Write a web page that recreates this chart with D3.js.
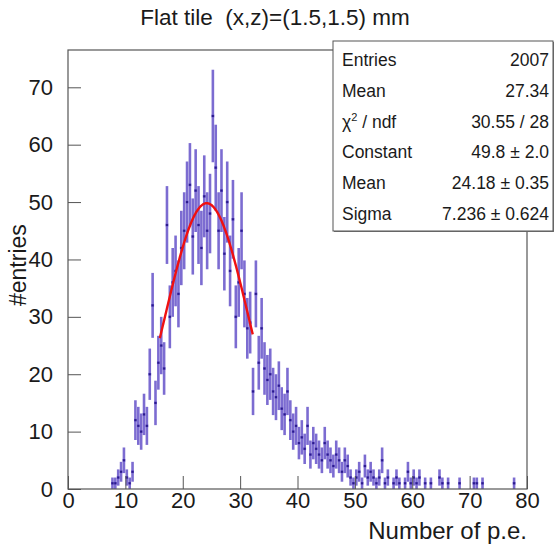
<!DOCTYPE html>
<html>
<head>
<meta charset="utf-8">
<script src="https://cdn.jsdelivr.net/npm/d3@7"></script>
<style>
	body { margin: 0; background: #fff; }
	svg { font-family: "Liberation Sans", Arial, sans-serif; }
</style>
</head>
<body>
<svg width="556" height="547"></svg>
<script>
// histogram: 160 bins of 0.5 p.e. from 0 to 80
const binWidth = 0.5;
const binCounts = [
	0, 0, 0, 0, 0, 0, 0, 0, 0, 0, 0, 0, 0, 0, 0, 1, 1, 2, 3, 5,
	2, 1, 3, 12, 11, 10, 13, 11, 20, 32, 15, 22, 25, 21, 46, 30, 36, 38, 34, 42,
	45, 50, 53, 44, 52, 46, 42, 51, 45, 48, 65, 56, 45, 52, 41, 50, 38, 47, 30, 36,
	45, 34, 28, 29, 17, 34, 22, 28, 21, 19, 20, 17, 16, 18, 14, 13, 17, 12, 10, 11,
	8, 9, 7, 11, 6, 8, 7, 6, 5, 8, 6, 5, 4, 6, 5, 3, 5, 4, 2, 1,
	2, 3, 1, 4, 2, 3, 2, 1, 2, 5, 1, 2, 0, 1, 2, 1, 0, 1, 3, 1,
	2, 1, 2, 0, 1, 0, 1, 0, 0, 2, 1, 0, 1, 0, 0, 0, 1, 0, 0, 0,
	0, 1, 1, 0, 1, 0, 0, 0, 0, 0, 0, 0, 0, 0, 0, 1, 0, 0, 0, 0
];

const xTicks = [0, 10, 20, 30, 40, 50, 60, 70, 80];
const yTicks = [0, 10, 20, 30, 40, 50, 60, 70];

// gaussian fit
const fitConstant = 49.8;
const fitMean = 24.18;
const fitSigma = 7.236;
const fitRange = [16.0, 32.2];

const statLabels = ["Entries", "Mean", "χ2 / ndf", "Constant", "Mean", "Sigma"];
const statValues = ["2007", "27.34", "30.55 / 28", "49.8 ± 2.0", "24.18 ± 0.35", "7.236 ± 0.624"];

const titel = "Flat tile\u00a0\u00a0(x,z)=(1.5,1.5) mm";
const xTitel = "Number of p.e.";
const yTitel = "#entries";

const svg = d3.select("svg");
const frame = {left: 68, right: 527, top: 50, bottom: 489};

const x = d3.scaleLinear().domain([0, 80]).range([frame.left, frame.right]);
const y = d3.scaleLinear().domain([0, 76.5]).range([frame.bottom, frame.top]);

const kleurHist = '#5b47c6';
const kleurAs = '#555';
const kleurTekst = '#1a1a1a';

svg.append("defs").append("clipPath")
	.attr("id", "clip")
	.append("rect")
	.attr("x", frame.left)
	.attr("y", frame.top)
	.attr("width", frame.right - frame.left)
	.attr("height", frame.bottom - frame.top);

// title
svg.append("text")
	.attr("x", 275)
	.attr("y", 25)
	.attr("text-anchor", "middle")
	.attr("font-size", 22.5)
	.attr("fill", kleurTekst)
	.text(titel);

// histogram with error bars
const bins = binCounts
	.map((n, i) => ({lo: i * binWidth, hi: (i + 1) * binWidth, n: n}))
	.filter(b => b.n > 0);

const plot = svg.append("g").attr("clip-path", "url(#clip)");

plot.selectAll("line.err")
	.data(bins)
	.join("line")
	.attr("class", "err")
	.attr("x1", d => x((d.lo + d.hi) / 2))
	.attr("x2", d => x((d.lo + d.hi) / 2))
	.attr("y1", d => y(Math.max(0, d.n - Math.sqrt(d.n))))
	.attr("y2", d => y(d.n + Math.sqrt(d.n)))
	.attr("stroke", kleurHist)
	.attr("stroke-opacity", 0.8)
	.attr("stroke-width", 2.6);

plot.selectAll("line.bin")
	.data(bins)
	.join("line")
	.attr("class", "bin")
	.attr("x1", d => x(d.lo))
	.attr("x2", d => x(d.hi))
	.attr("y1", d => y(d.n))
	.attr("y2", d => y(d.n))
	.attr("stroke", kleurHist)
	.attr("stroke-opacity", 0.8)
	.attr("stroke-width", 2.6);

plot.selectAll("rect.marker")
	.data(bins)
	.join("rect")
	.attr("class", "marker")
	.attr("x", d => x((d.lo + d.hi) / 2) - 1)
	.attr("y", d => y(d.n) - 1)
	.attr("width", 2)
	.attr("height", 2)
	.attr("fill", "#2a1a8a");

// fit curve
const fitPunten = d3.range(fitRange[0], fitRange[1] + 0.001, 0.1);
const gauss = u => fitConstant * Math.exp(-0.5 * Math.pow((u - fitMean) / fitSigma, 2));

plot.append("path")
	.datum(fitPunten)
	.attr("d", d3.line().x(u => x(u)).y(u => y(gauss(u))))
	.attr("fill", "none")
	.attr("stroke", "#f01010")
	.attr("stroke-width", 2.4);

// frame
svg.append("rect")
	.attr("x", frame.left)
	.attr("y", frame.top)
	.attr("width", frame.right - frame.left)
	.attr("height", frame.bottom - frame.top)
	.attr("fill", "none")
	.attr("stroke", kleurAs)
	.attr("stroke-width", 1.2);

// axes
const xAxis = d3.axisBottom(x).tickValues(xTicks).tickSize(-13).tickPadding(17);
const xMinor = d3.axisBottom(x).tickValues(d3.range(0, 81, 1)).tickSize(-6).tickFormat("");
const yAxis = d3.axisLeft(y).tickValues(yTicks).tickSize(-13).tickPadding(15);
const yMinor = d3.axisLeft(y).tickValues(d3.range(0, 77, 1)).tickSize(-7).tickFormat("");

const gX = svg.append("g").attr("transform", `translate(0,${frame.bottom})`);
gX.call(xMinor);
gX.call(xAxis);

const gY = svg.append("g").attr("transform", `translate(${frame.left},0)`);
gY.call(yMinor);
gY.call(yAxis);

svg.selectAll(".domain").remove();
svg.selectAll(".tick line").attr("stroke", kleurAs);
svg.selectAll(".tick text")
	.attr("font-size", 22)
	.attr("font-family", "Liberation Sans, Arial, sans-serif")
	.attr("fill", kleurTekst);
gX.selectAll(".tick text").attr("y", 3).attr("dy", "0.71em");

svg.append("text")
	.attr("x", frame.right)
	.attr("y", 539)
	.attr("text-anchor", "end")
	.attr("font-size", 24)
	.attr("fill", kleurTekst)
	.text(xTitel);

svg.append("text")
	.attr("transform", "translate(26,306) rotate(-90)")
	.attr("text-anchor", "start")
	.attr("font-size", 23)
	.attr("fill", kleurTekst)
	.text(yTitel);

// stats box
const box = {x: 333, y: 41, w: 220, h: 190};
svg.append("rect")
	.attr("x", box.x + 1)
	.attr("y", box.y + 1)
	.attr("width", box.w)
	.attr("height", box.h)
	.attr("fill", "#777");
svg.append("rect")
	.attr("x", box.x)
	.attr("y", box.y)
	.attr("width", box.w)
	.attr("height", box.h)
	.attr("fill", "#fff")
	.attr("stroke", "#555")
	.attr("stroke-width", 1);

const rowY = d3.scaleLinear().domain([0, 5]).range([box.y + 25, box.y + 179]);

statLabels.forEach((lbl, i) => {
	const t = svg.append("text")
		.attr("x", box.x + 9)
		.attr("y", rowY(i))
		.attr("font-size", 17.5)
		.attr("fill", kleurTekst);
	if (lbl.startsWith("χ2")) {
		t.append("tspan").text("χ");
		t.append("tspan").attr("dy", -7).attr("font-size", 11).text("2");
		t.append("tspan").attr("dy", 7).text(" / ndf");
	} else
		t.text(lbl);

	svg.append("text")
		.attr("x", box.x + box.w - 4)
		.attr("y", rowY(i))
		.attr("text-anchor", "end")
		.attr("font-size", 17.5)
		.attr("fill", kleurTekst)
		.text(statValues[i]);
});
</script>
</body>
</html>
